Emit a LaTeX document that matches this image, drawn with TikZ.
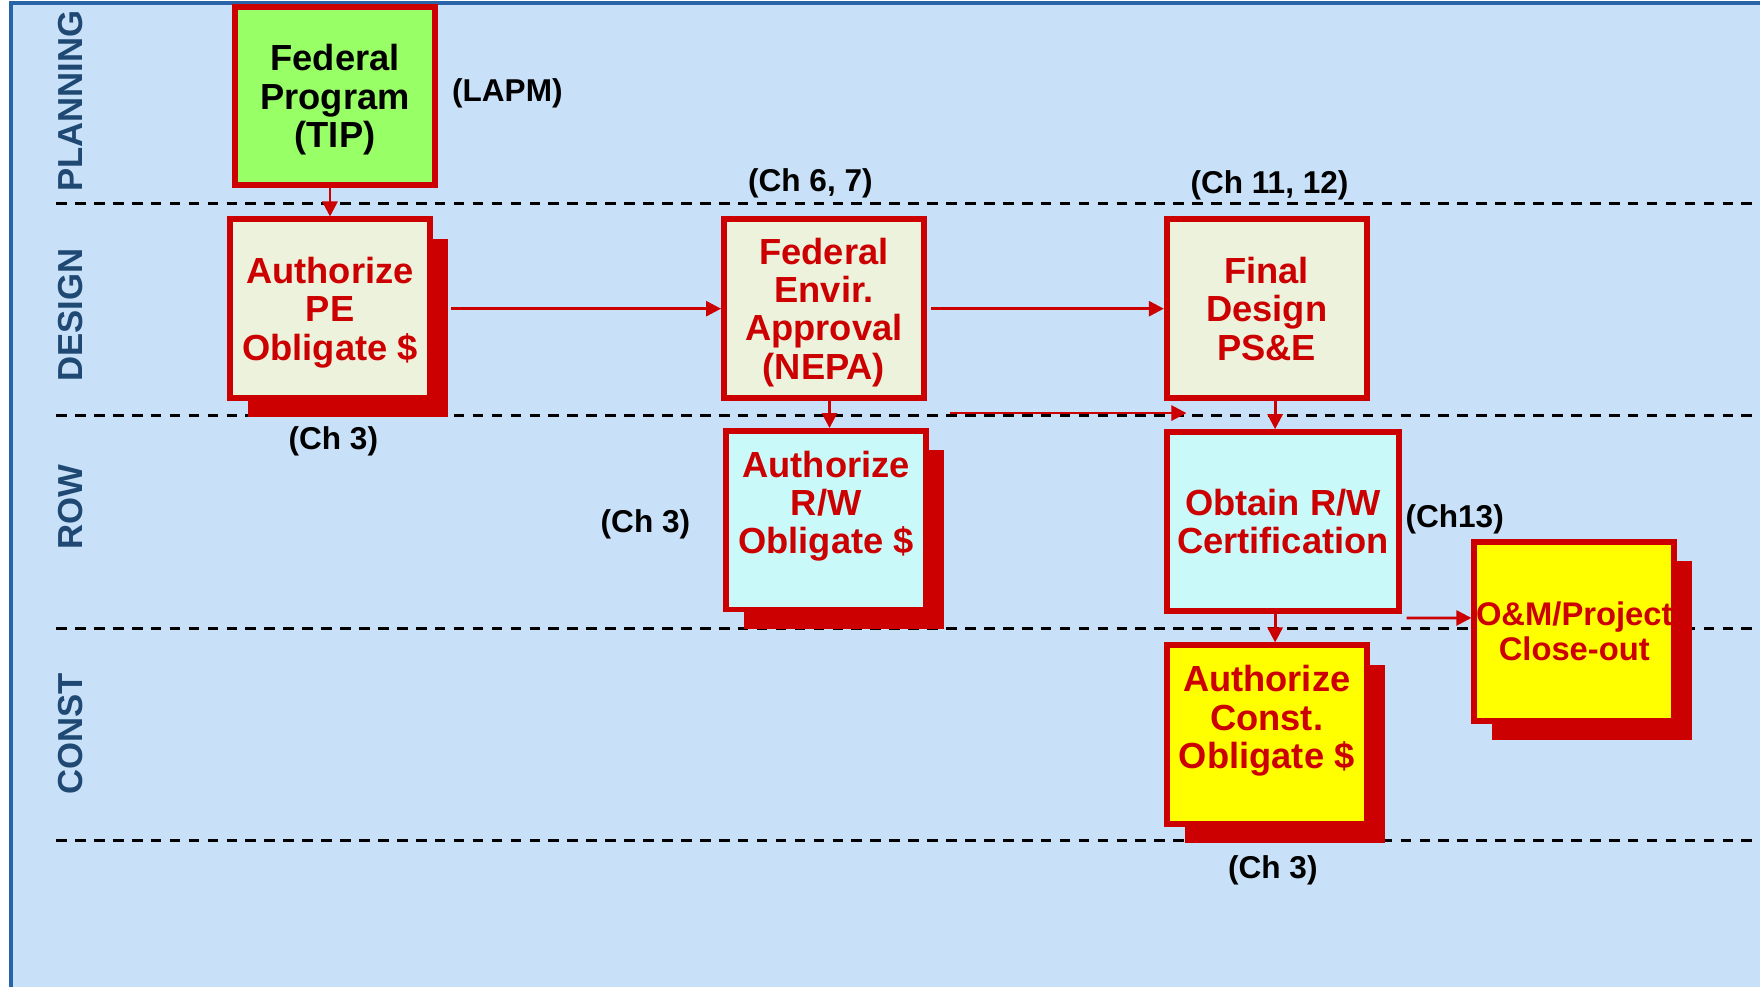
\documentclass[tikz,border=0pt]{standalone}
\usepackage{fontspec}
\setmainfont{Liberation Sans}
\usetikzlibrary{arrows.meta,shadows}

\definecolor{panelblue}{HTML}{C8E1F8}
\definecolor{panelline}{HTML}{2A64A8}
\definecolor{lanetext}{HTML}{1F4873}
\definecolor{boxred}{HTML}{CC0000}
\definecolor{progreen}{HTML}{99FF66}
\definecolor{designbg}{HTML}{EDF2DC}
\definecolor{rowbg}{HTML}{C9F9F9}
\definecolor{constbg}{HTML}{FFFF00}

\begin{document}
\begin{tikzpicture}[
  every node/.style={font=\bfseries},
  box/.style={draw=boxred, line width=1.5pt, minimum width=1.78cm, minimum height=1.59cm,
    align=center, inner sep=0pt, text depth=0pt, text=boxred, font=\fontsize{9.2}{9.7}\selectfont\bfseries},
  shadowed/.style={drop shadow={fill=boxred, opacity=1, shadow xshift=0.16cm, shadow yshift=-0.17cm}},
  raised/.style={text depth=9pt},
  chap/.style={font=\fontsize{8}{9}\selectfont\bfseries},
  lane/.style={rotate=90, text=lanetext, font=\fontsize{8.8}{10}\selectfont\bfseries},
  lanesep/.style={dash pattern=on 2.7pt off 2.1pt, line width=0.7pt},
  arr/.style={draw=boxred, line width=0.7pt, -{Triangle[length=3.8pt,width=3.8pt]}}
]
  \useasboundingbox (0,0) rectangle (15.68,8.79);
  % background panel
  \fill[white] (0,0) rectangle (15.68,8.79);
  \draw[draw=panelline, line width=1pt, fill=panelblue] (0.10,-1) rectangle (17,8.76);
  % swim lane separators
  \foreach \y in {6.98,5.09,3.19,1.30}
    \draw[lanesep] (0.50,\y) -- (15.68,\y);
  % lane names
  \node[lane] (planning) at (0.63,7.89) {PLANNING};
  \node[lane] (design) at (0.63,5.98) {DESIGN};
  \node[lane] (row) at (0.63,4.27) {ROW};
  \node[lane] (const) at (0.63,2.25) {CONST};
  % steps
  \node[box, fill=progreen, text=black] (fedprog) at (2.985,7.935) {Federal\\Program\\(TIP)};
  \node[box, shadowed, fill=designbg] (authpe) at (2.94,6.04) {Authorize\\PE\\Obligate \$};
  \node[box, fill=designbg] (nepa) at (7.34,6.04) {Federal\\Envir.\\Approval\\(NEPA)};
  \node[box, fill=designbg] (finaldes) at (11.285,6.04) {Final\\Design\\PS\&E};
  \node[box, shadowed, raised, fill=rowbg] (authrw) at (7.36,4.155) {Authorize\\R/W\\Obligate \$};
  \node[box, fill=rowbg, minimum width=2.07cm] (obtainrw) at (11.43,4.145) {Obtain R/W\\Certification};
  \node[box, shadowed, raised, fill=constbg] (authconst) at (11.285,2.245) {Authorize\\Const.\\Obligate \$};
  \node[box, shadowed, fill=constbg, font=\fontsize{8.3}{8.8}\selectfont\bfseries] (closeout) at (14.025,3.165) {O\&M/Project\\Close-out};
  % chapter references
  \node[chap] (lapm) at (4.52,7.96) {(LAPM)};
  \node[chap] (chnepa) at (7.22,7.16) {(Ch 6, 7)};
  \node[chap] (chfinal) at (11.31,7.14) {(Ch 11, 12)};
  \node[chap] (chpe) at (2.97,4.86) {(Ch 3)};
  \node[chap] (chrw) at (5.75,4.12) {(Ch 3)};
  \node[chap] (chcert) at (12.96,4.16) {(Ch13)};
  \node[chap] (chconst) at (11.34,1.04) {(Ch 3)};
  % flow
  \draw[arr] (authpe.north |- fedprog.south) -- (authpe.north);
  \draw[arr] ([xshift=0.16cm]authpe.east) -- (nepa.west);
  \draw[arr] ([xshift=0.04cm]nepa.east) -- (finaldes.west);
  \draw[arr] ([xshift=0.05cm]nepa.south) -- ([xshift=0.05cm]nepa.south |- authrw.north);
  \coordinate (rwstart) at (8.46,5.11);
  \coordinate (rwend) at (10.57,5.11);
  \draw[arr] (rwstart) -- (rwend);
  \draw[arr] ([xshift=0.075cm]finaldes.south) -- ([xshift=0.075cm]finaldes.south |- obtainrw.north);
  \draw[arr] ([xshift=-0.07cm]obtainrw.south) -- ([xshift=-0.07cm]obtainrw.south |- authconst.north);
  \draw[arr] ([shift={(0.04,-0.04)}]obtainrw.south east) -- ([yshift=0.12cm]closeout.west);
\end{tikzpicture}
\end{document}
